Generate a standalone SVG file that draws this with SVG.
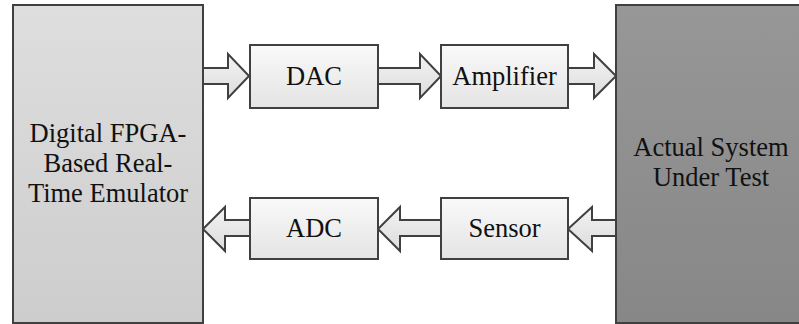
<svg xmlns="http://www.w3.org/2000/svg" width="799" height="324" viewBox="0 0 799 324">
  <defs>
    <linearGradient id="gEmu" x1="0" y1="0" x2="0" y2="1">
      <stop offset="0" stop-color="#dedede"/>
      <stop offset="1" stop-color="#cdcdcd"/>
    </linearGradient>
    <linearGradient id="gSut" x1="0" y1="0" x2="0" y2="1">
      <stop offset="0" stop-color="#979797"/>
      <stop offset="1" stop-color="#878787"/>
    </linearGradient>
    <linearGradient id="gBlock" x1="0" y1="0" x2="0" y2="1">
      <stop offset="0" stop-color="#f9f9f9"/>
      <stop offset="1" stop-color="#e4e4e4"/>
    </linearGradient>
    <linearGradient id="gArrow" x1="0" y1="0" x2="0" y2="1">
      <stop offset="0" stop-color="#f3f3f3"/>
      <stop offset="1" stop-color="#dcdcdc"/>
    </linearGradient>
  </defs>
  <style>
    .box { stroke: #404040; stroke-width: 2; }
    .emu { fill: url(#gEmu); }
    .sut { fill: url(#gSut); }
    .blk { fill: url(#gBlock); }
    .arrow { fill: url(#gArrow); stroke: #404040; stroke-width: 2; stroke-linejoin: miter; }
    .lbl { font-family: 'Liberation Serif', 'DejaVu Serif', serif; font-size: 26.5px; fill: #111; text-anchor: middle; }
  </style>

  <rect width="799" height="324" fill="#ffffff"/>

  <!-- block arrows between stages -->
  <g id="connectors">
    <!-- forward path: emulator -> DAC -> amplifier -> system -->
    <path class="arrow" d="M203,68 H228 V54 L249,76 L228,98 V84 H203 Z"/>
    <path class="arrow" d="M378,68 H420 V54 L441,76 L420,98 V84 H378 Z"/>
    <path class="arrow" d="M568,68 H594 V54 L616,76 L594,98 V84 H568 Z"/>
    <!-- feedback path: system -> sensor -> ADC -> emulator -->
    <path class="arrow" d="M616,220 H592 V207 L568,229 L592,251 V236 H616 Z"/>
    <path class="arrow" d="M441,220 H400 V207 L378,229 L400,251 V236 H441 Z"/>
    <path class="arrow" d="M250,220 H225 V207 L203,229 L225,251 V236 H250 Z"/>
  </g>

  <g id="emulator">
    <rect class="box emu" x="13" y="5" width="190" height="318"/>
    <text class="lbl" x="108" y="142">Digital FPGA-</text>
    <text class="lbl" x="108" y="172">Based Real-</text>
    <text class="lbl" x="108" y="202">Time Emulator</text>
  </g>

  <g id="system-under-test">
    <rect class="box sut" x="616" y="5" width="190" height="318"/>
    <text class="lbl" x="711" y="156">Actual System</text>
    <text class="lbl" x="711" y="186">Under Test</text>
  </g>

  <g id="dac">
    <rect class="box blk" x="250" y="45" width="128" height="63"/>
    <text class="lbl" x="314" y="85">DAC</text>
  </g>

  <g id="amplifier">
    <rect class="box blk" x="441" y="45" width="127" height="63"/>
    <text class="lbl" x="504.5" y="85">Amplifier</text>
  </g>

  <g id="adc">
    <rect class="box blk" x="250" y="198" width="128" height="61"/>
    <text class="lbl" x="314" y="237">ADC</text>
  </g>

  <g id="sensor">
    <rect class="box blk" x="441" y="198" width="127" height="61"/>
    <text class="lbl" x="504.5" y="237">Sensor</text>
  </g>
</svg>
